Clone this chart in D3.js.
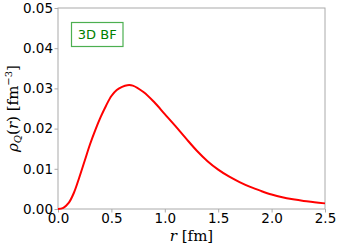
<!DOCTYPE html>
<html><head><meta charset="utf-8">
<script src="https://cdn.jsdelivr.net/npm/d3@7"></script>
<style>body{margin:0;background:#fff}svg{display:block}</style>
</head><body>
<script>
const rValues = [0,0.05,0.1,0.15,0.2,0.25,0.3,0.35,0.4,0.45,0.5,0.55,0.6,0.65,0.7,0.8,0.9,1.0,1.1,1.2,1.3,1.4,1.5,1.6,1.7,1.8,1.9,2.0,2.1,2.2,2.3,2.4,2.5];
const rhoValues = [0,0.0003,0.0015,0.0041,0.0079,0.0120,0.0161,0.0197,0.0229,0.0257,0.0281,0.0296,0.0304,0.0308,0.0307,0.0291,0.0266,0.0236,0.0206,0.0175,0.0145,0.0119,0.0098,0.0081,0.0067,0.0055,0.0045,0.0036,0.0029,0.0024,0.0020,0.0017,0.0014];
const xTicks = [0,0.5,1.0,1.5,2.0,2.5];
const yTicks = [0,0.01,0.02,0.03,0.04,0.05];
const legendLabel = "3D BF";

const W=339,H=248, m={l:58,r:14,t:8,b:39};
const svg=d3.select("body").append("svg").attr("width",W).attr("height",H);
const x=d3.scaleLinear().domain([0,2.5]).range([m.l,W-m.r]);
const y=d3.scaleLinear().domain([0,0.05]).range([H-m.b,m.t]);
const font="DejaVu Sans";
// frame
svg.append("rect").attr("x",m.l).attr("y",m.t).attr("width",W-m.r-m.l).attr("height",H-m.b-m.t)
 .attr("fill","none").attr("stroke","#aaa").attr("stroke-width",1);
const xa=svg.append("g").attr("transform",`translate(0,${H-m.b})`)
 .call(d3.axisBottom(x).tickValues(xTicks).tickFormat(d3.format(".1f")).tickSize(3.5).tickPadding(0.5));
const ya=svg.append("g").attr("transform",`translate(${m.l},0)`)
 .call(d3.axisLeft(y).tickValues(yTicks).tickFormat(d3.format(".2f")).tickSize(3.5).tickPadding(1.5));
[xa,ya].forEach(a=>{a.select(".domain").remove();a.selectAll("line").attr("stroke","#aaa");
 a.selectAll("text").attr("font-family",font).attr("font-size",13.5).attr("fill","#000");});
// line
const data=rValues.map((r,i)=>[r,rhoValues[i]]);
svg.append("path").datum(data).attr("fill","none").attr("stroke","#ff0000").attr("stroke-width",2)
 .attr("d",d3.line().x(d=>x(d[0])).y(d=>y(d[1])).curve(d3.curveCatmullRom.alpha(0.5)));
// legend
svg.append("rect").attr("x",71.5).attr("y",22.5).attr("width",51.5).attr("height",24)
 .attr("fill","#fff").attr("stroke","#4caf50").attr("stroke-width",1.2);
svg.append("text").attr("x",97.25).attr("y",39).attr("text-anchor","middle")
 .attr("font-family",font).attr("font-size",13).attr("fill","#008000").text(legendLabel);
// x label
const xl=svg.append("text").attr("x",(m.l+W-m.r)/2).attr("y",241).attr("text-anchor","middle")
 .attr("font-family","DejaVu Serif").attr("font-size",15);
xl.append("tspan").attr("font-style","italic").text("r");
xl.append("tspan").text(" [fm]");
// y label
const yl=svg.append("text").attr("transform",`translate(18,${(m.t+H-m.b)/2}) rotate(-90)`).attr("text-anchor","middle")
 .attr("font-family","DejaVu Serif").attr("font-size",15);
yl.append("tspan").attr("font-style","italic").text("ρ");
yl.append("tspan").attr("font-style","italic").attr("font-size",10).attr("dy",3).text("Q");
yl.append("tspan").attr("dy",-3).text("(");
yl.append("tspan").attr("font-style","italic").text("r");
yl.append("tspan").text(") [fm");
yl.append("tspan").attr("font-size",10).attr("dy",-6).text("−3");
yl.append("tspan").attr("dy",6).text("]");
</script>
</body></html>
